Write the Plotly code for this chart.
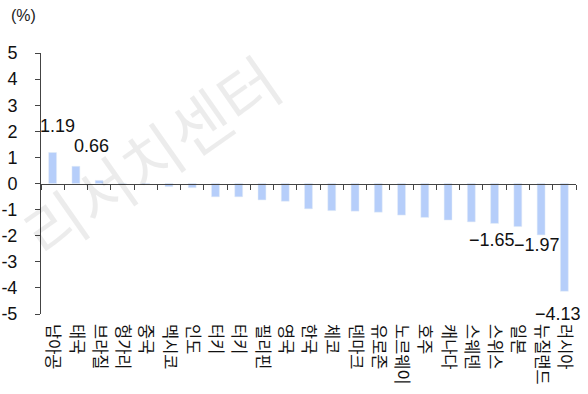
import plotly.graph_objects as go

categories = ["남아공", "태국", "브라질", "헝가리", "중국", "멕시코", "인도", "터키", "터키",
              "필리핀", "영국", "한국", "체코", "덴마크", "유로존", "노르웨이", "호주", "캐나다",
              "스웨덴", "스위스", "일본", "뉴질랜드", "러시아"]
values = [1.19, 0.66, 0.12, 0.01, -0.03, -0.12, -0.16, -0.51, -0.51,
          -0.63, -0.68, -0.97, -1.04, -1.06, -1.10, -1.21, -1.30, -1.40,
          -1.47, -1.53, -1.65, -1.97, -4.13]
y_ticks = [5, 4, 3, 2, 1, 0, -1, -2, -3, -4, -5]
labelled_idx = [0, 1, 20, 21, 22]
label_shift = {0: (5, 26), 1: (16, 20), 20: (-26, -13), 21: (-4, -10), 22: (-6, -23)}

NUM_FONT = "Liberation Sans Narrow, Arial Narrow, Liberation Sans, Arial, sans-serif"
KR_FONT = "Noto Sans CJK KR, sans-serif"

n = len(categories)
xpos = list(range(n))

fig = go.Figure()
fig.add_trace(go.Bar(x=xpos, y=values, marker_color="#b6cefa", width=0.34,
                     showlegend=False, customdata=categories,
                     hovertemplate="%{customdata}: %{y}<extra></extra>"))

# zero line with boundary ticks via overlaying axis
fig.add_trace(go.Scatter(x=[-0.5, n - 0.5], y=[0, 0], xaxis="x2", mode="lines",
                         line=dict(width=0), showlegend=False, hoverinfo="skip"))

for i in labelled_idx:
    v = values[i]
    dx, dy = label_shift[i]
    fig.add_annotation(x=xpos[i], y=v, text=f"{v:.2f}".replace("-", "\u2212"),
                       showarrow=False, xshift=dx, yshift=dy,
                       xanchor="center", yanchor="middle",
                       font=dict(family=NUM_FONT, size=18, color="#111"))

fig.add_annotation(xref="paper", yref="paper", x=(23 - 41) / 535, y=1 + (53 - 15) / 261,
                   text="(%)", showarrow=False, xanchor="center", yanchor="middle",
                   font=dict(family=NUM_FONT, size=16, color="#222"))

fig.add_annotation(xref="paper", yref="paper", x=(150 - 41) / 535, y=1 - (155 - 53) / 261,
                   text="리서치센터", showarrow=False, xanchor="center", yanchor="middle",
                   textangle=-35,
                   font=dict(family=KR_FONT, size=64, color="rgba(0,0,0,0.075)"))

fig.update_layout(
    width=588, height=394,
    margin=dict(l=41, r=12, t=53, b=80, autoexpand=False),
    paper_bgcolor="white", plot_bgcolor="white",
    xaxis=dict(range=[-0.5, n - 0.5], showline=False, ticks="", automargin=False,
               tickmode="array", tickvals=xpos, ticktext=categories,
               showgrid=False, zeroline=False, tickangle=90,
               tickfont=dict(family=KR_FONT, size=16.5, color="#111"),
               ticklabelstandoff=9),
    xaxis2=dict(overlaying="x", anchor="free", position=0.5, side="bottom",
                range=[-0.5, n - 0.5], showline=True, linecolor="#444", linewidth=1,
                ticks="outside", ticklen=5, tickcolor="#444", tickwidth=1,
                tickvals=[i - 0.5 for i in range(n + 1)], showticklabels=False,
                showgrid=False, zeroline=False),
    yaxis=dict(range=[-5, 5], showline=True, linecolor="#444", linewidth=1,
               ticks="outside", ticklen=5, tickcolor="#444", automargin=False,
               tickvals=y_ticks, ticktext=[str(t) for t in y_ticks],
               showgrid=False, zeroline=False,
               tickfont=dict(family=NUM_FONT, size=18, color="#111"),
               ticklabelstandoff=14),
)

fig.write_html("out.html")
